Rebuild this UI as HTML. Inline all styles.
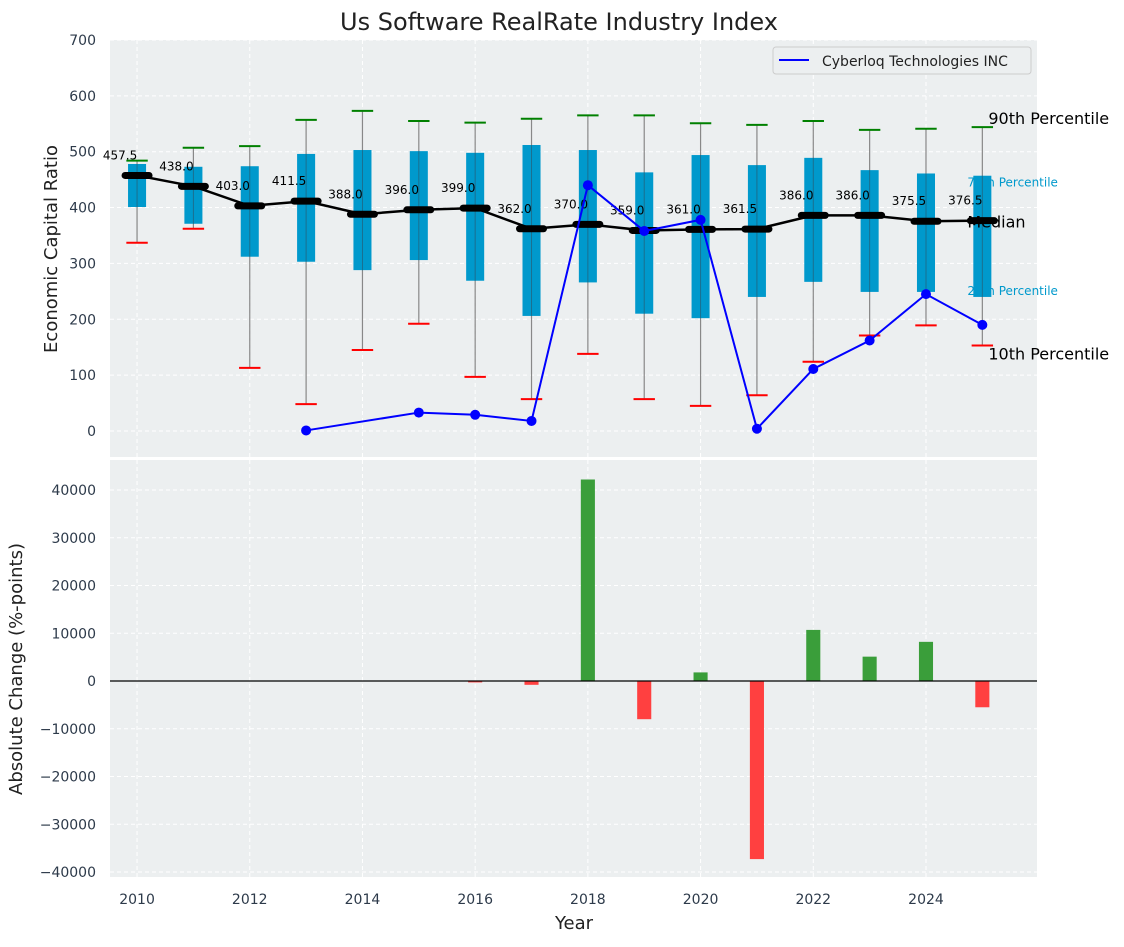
<!DOCTYPE html>
<html><head><meta charset="utf-8">
<style>
body{margin:0;background:#fff;font-family:"Liberation Sans","DejaVu Sans",sans-serif;}
svg text{font-family:"DejaVu Sans","Liberation Sans",sans-serif;}
</style></head>
<body>
<svg id="chart" width="1124" height="942" xmlns="http://www.w3.org/2000/svg"></svg>
<script>
const years=[2010,2011,2012,2013,2014,2015,2016,2017,2018,2019,2020,2021,2022,2023,2024,2025];
const p90=[484,507,510,557,573,555,552,559,565,565,551,548,555,539,541,544];
const q75=[478,473,474,496,503,501,498,512,503,463,494,476,489,467,461,457];
const medians=[457.5,438,403,411.5,388,396,399,362,370,359,361,361.5,386,386,375.5,376.5];
const q25=[401,371,312,303,288,306,269,206,266,210,202,240,267,249,249,240];
const p10=[337,362,113,48,145,192,97,57,138,57,45,64,124,171,189,153];
const company=[null,null,null,1,null,33,29,18,440,358,378,4,111,162,245,190];
const changes=[null,null,null,null,null,null,-300,-800,42200,-8000,1800,-37300,10700,5100,8200,-5500];
const topTicks=[0,100,200,300,400,500,600,700];
const botTicks=[-40000,-30000,-20000,-10000,0,10000,20000,30000,40000];
const xTicks=[2010,2012,2014,2016,2018,2020,2022,2024];

const svg=document.getElementById('chart');
const NS='http://www.w3.org/2000/svg';
function mk(tag,attrs,parent){const e=document.createElementNS(NS,tag);for(const k in attrs)e.setAttribute(k,attrs[k]);(parent||svg).appendChild(e);return e;}
const L=110,R=1037;
const x=v=>L+(v-2009.52)/(2025.97-2009.52)*(R-L);
const yT=v=>431-v*0.5586;
const yB=v=>681-v*0.004775;
const fmt=v=>String(v).replace('-','\u2212');

let e;
e=mk('rect',{x:L,y:40,width:R-L,height:417,fill:'#eceff0'});

e=mk('rect',{x:L,y:460,width:R-L,height:417,fill:'#eceff0'});


xTicks.forEach(t=>{
  mk('line',{x1:x(t),x2:x(t),y1:40,y2:457,stroke:'#fff','stroke-dasharray':'4,3','stroke-width':1});
  mk('line',{x1:x(t),x2:x(t),y1:460,y2:877,stroke:'#fff','stroke-dasharray':'4,3','stroke-width':1});
  e=mk('text',{x:x(t),y:904,'font-size':14,fill:'#2d3a4a','text-anchor':'middle'});e.textContent=t;
  
});
topTicks.forEach(t=>{
  mk('line',{x1:L,x2:R,y1:yT(t),y2:yT(t),stroke:'#fff','stroke-dasharray':'4,3','stroke-width':1});
  e=mk('text',{x:96,y:yT(t)+5,'font-size':14,fill:'#2d3a4a','text-anchor':'end'});e.textContent=t;
  
});
botTicks.forEach(t=>{
  mk('line',{x1:L,x2:R,y1:yB(t),y2:yB(t),stroke:'#fff','stroke-dasharray':'4,3','stroke-width':1});
  e=mk('text',{x:96,y:yB(t)+5,'font-size':14,fill:'#2d3a4a','text-anchor':'end'});e.textContent=fmt(t);
  
});

const bw=0.32*(x(1)-x(0)), cw=0.38*(x(1)-x(0));
years.forEach((yr,i)=>{
  const cx=x(yr);
  e=mk('line',{x1:cx,x2:cx,y1:yT(p90[i]),y2:yT(p10[i]),stroke:'#888','stroke-width':1.2});
  
  e=mk('rect',{x:cx-bw/2,y:yT(q75[i]),width:bw,height:yT(q25[i])-yT(q75[i]),fill:'#0099cc'});
  
  mk('line',{x1:cx,x2:cx,y1:yT(q75[i]),y2:yT(q25[i]),stroke:'#1a6f8f','stroke-width':1});
  e=mk('line',{x1:cx-cw/2,x2:cx+cw/2,y1:yT(p90[i]),y2:yT(p90[i]),stroke:'green','stroke-width':2});
  
  e=mk('line',{x1:cx-cw/2,x2:cx+cw/2,y1:yT(p10[i]),y2:yT(p10[i]),stroke:'red','stroke-width':2});
  
});
e=mk('polyline',{points:years.map((yr,i)=>x(yr)+','+yT(medians[i])).join(' '),fill:'none',stroke:'#000','stroke-width':2.5});

years.forEach((yr,i)=>{
  e=mk('line',{x1:x(yr)-12,x2:x(yr)+12,y1:yT(medians[i]),y2:yT(medians[i]),stroke:'#000','stroke-width':7,'stroke-linecap':'round'});
  
  e=mk('text',{x:x(yr)-17,y:yT(medians[i])-16,'font-size':12,fill:'#000','text-anchor':'middle'});e.textContent=medians[i].toFixed(1);
  
});
let cur=[];
years.forEach((yr,i)=>{if(company[i]!==null)cur.push(x(yr)+','+yT(company[i]));});
e=mk('polyline',{points:cur.join(' '),fill:'none',stroke:'#0000ff','stroke-width':2});

years.forEach((yr,i)=>{if(company[i]!==null){
  e=mk('circle',{cx:x(yr),cy:yT(company[i]),r:5,fill:'#0000ff'});
  
}});

const last=years.length-1, lx=x(years[last]);
function lab(txt,xx,yy,fs,col,name){e=mk('text',{x:xx,y:yy,'font-size':fs,fill:col});e.textContent=txt;}
lab('90th Percentile',lx+6,yT(p90[last])-3,16,'#000','p90-label');
lab('75th Percentile',lx-15,yT(q75[last])+11,12,'#0099cc','q75-label');
lab('Median',lx-15,yT(medians[last])+7,16,'#000','median-label');
lab('25th Percentile',lx-15,yT(q25[last])-2,12,'#0099cc','q25-label');
lab('10th Percentile',lx+6,yT(p10[last])+14,16,'#000','p10-label');

const lg=mk('g',{});
mk('rect',{x:773,y:47,width:258,height:27,rx:3,fill:'#eceff0',stroke:'#ccc'},lg);
mk('line',{x1:779,x2:809,y1:60,y2:60,stroke:'#0000ff','stroke-width':2},lg);
e=mk('text',{x:822,y:66,'font-size':14,fill:'#222'},lg);e.textContent='Cyberloq Technologies INC';

const barW=0.25*(x(1)-x(0));
years.forEach((yr,i)=>{if(changes[i]!==null){
  const v=changes[i];
  e=mk('rect',{x:x(yr)-barW/2,y:Math.min(yB(v),yB(0)),width:barW,height:Math.abs(yB(v)-yB(0)),fill:v>=0?'#3a9e3a':'#ff4040'});
  
}});
e=mk('line',{x1:L,x2:R,y1:yB(0),y2:yB(0),stroke:'#000','stroke-width':1.2});


lab('Us Software RealRate Industry Index',0,0,24,'#222','chart-title');
e.setAttribute('x',559);e.setAttribute('y',30);e.setAttribute('text-anchor','middle');
e=mk('text',{x:0,y:0,'font-size':18,fill:'#222','text-anchor':'middle',transform:'translate(57,249) rotate(-90)'});e.textContent='Economic Capital Ratio';

e=mk('text',{x:0,y:0,'font-size':18,fill:'#222','text-anchor':'middle',transform:'translate(22,669) rotate(-90)'});e.textContent='Absolute Change (%-points)';

e=mk('text',{x:574,y:929,'font-size':18,fill:'#222','text-anchor':'middle'});e.textContent='Year';

</script>
</body></html>
